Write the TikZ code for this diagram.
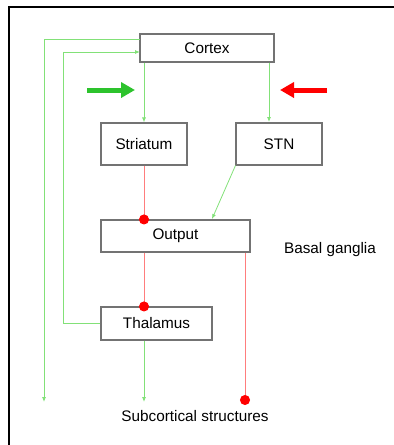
\documentclass[tikz,border=0pt]{standalone}
\usepackage{xcolor}
\usepackage{tikz}
\usetikzlibrary{arrows.meta}
\usepackage{fontspec}
\setmainfont{Liberation Sans}

\definecolor{excgreen}{RGB}{130,225,120}
\definecolor{inhred}{RGB}{255,125,125}
\definecolor{biggreen}{RGB}{45,195,45}

\tikzset{
  area/.style={draw=black!55, line width=1.1pt, fill=white, inner sep=0pt},
  exc/.style={draw=excgreen, line width=0.8pt, -{Latex[length=5pt,width=4pt]}},
  inh/.style={draw=inhred, line width=1pt, -{Circle[red,length=10pt]}, shorten >=-5pt},
  bigarrow/.style={line width=5pt, -{Triangle[length=14pt,width=15pt]}}
}

\begin{document}
\begin{tikzpicture}[x=1pt,y=-1pt,font=\fontsize{15.3}{18}\selectfont]
\useasboundingbox (0,0) rectangle (394,445);
\draw[line width=1.2pt] (9,445) -- (9,7) -- (394,7);
% boxes
\node[area, minimum width=134pt, minimum height=28pt] (ctx) at (207,48) {Cortex};
\node[area, minimum width=86pt, minimum height=42pt] (str) at (144,144) {Striatum};
\node[area, minimum width=86pt, minimum height=42pt] (stn) at (279,144) {STN};
\node[area, minimum width=149pt, minimum height=32pt] (out) at (175.5,236) {Output};
\node[area, minimum width=111pt, minimum height=33pt] (thal) at (156.5,323.5) {Thalamus};
\node (bg) at (330,250) {Basal ganglia};
\node (sub) at (195,416) {Subcortical structures};
\coordinate (stnin) at (269,122);
\coordinate (outin) at (212,219);
\coordinate (ctxin) at (140,52);
\coordinate (ctxout) at (140,39);
\coordinate (leftend) at (44,402);
\coordinate (subend) at (144,402);
\coordinate (outend) at (245,400);
% big arrows
\draw[bigarrow, draw=biggreen, fill=biggreen] (87,90) -- (135,90);
\draw[bigarrow, draw=red, fill=red] (327,90) -- (280,90);
% connections
\draw[exc] (ctx.south -| str) -- (str.north);
\draw[exc] (ctx.south -| stnin) -- (stnin);
\draw[exc] (stn.south west) -- (outin);
\draw[inh] (str.south) -- (str.south |- out.north);
\draw[inh] (out.south -| str) -- (str |- thal.north);
\draw[inh] (out.south -| outend) -- (outend);
\draw[exc] (thal.south -| subend) -- (subend);
\draw[exc] (thal.west) -| (63,52) -- (ctxin);
\draw[exc] (ctxout) -| (leftend);
\end{tikzpicture}
\end{document}
